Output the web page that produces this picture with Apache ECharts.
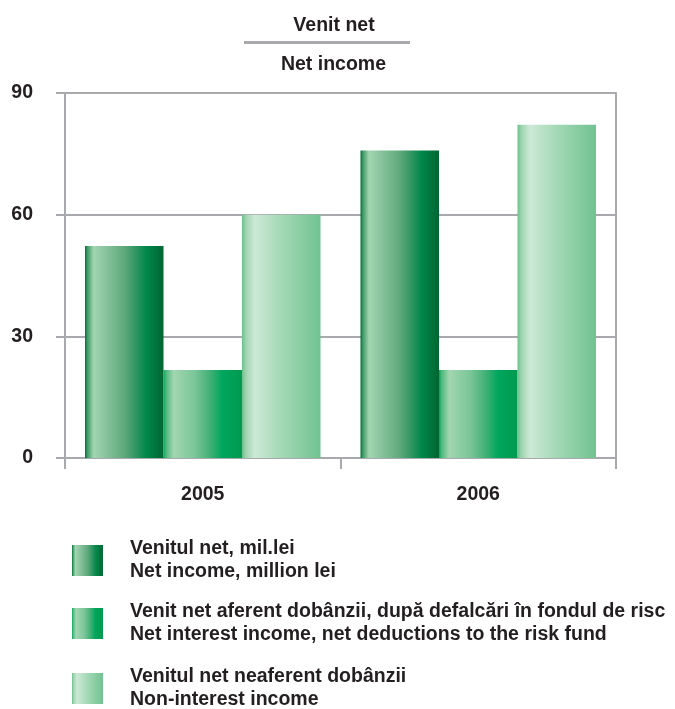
<!DOCTYPE html>
<html>
<head>
<meta charset="utf-8">
<script src="https://cdn.jsdelivr.net/npm/echarts@6/dist/echarts.min.js"></script>
<style>
html,body{margin:0;padding:0;background:#fff;}
#c{width:675px;height:709px;}
</style>
</head>
<body>
<div id="c"></div>
<script>
// ---- data ----
const categories = ['2005', '2006'];
const netIncome = [52.3, 75.8];
const netInterestIncome = [21.7, 21.7];
const nonInterestIncome = [60.0, 82.2];
const seriesNames = [
  'Venitul net, mil.lei\nNet income, million lei',
  'Venit net aferent dobânzii, după defalcări în fondul de risc\nNet interest income, net deductions to the risk fund',
  'Venitul net neaferent dobânzii\nNon-interest income'
];
const titleTop = 'Venit net';
const titleBottom = 'Net income';
const yTicks = {min: 0, max: 90, interval: 30};

// ---- styles ----
const FONT = "'Liberation Sans', Arial, Helvetica, sans-serif";
const TXT = '#231f20';
const GRAY = '#a7a9ac';
const FS = 19.5;

function grad(stops) {
  return new echarts.graphic.LinearGradient(0, 0, 1, 0,
    stops.map(s => ({offset: s[0], color: s[1]})));
}
const g1 = grad([[0, '#006e38'], [0.03, '#3f9a66'], [0.11, '#a2d5b1'], [0.3, '#82bf98'], [0.5, '#5fa97c'], [0.65, '#2f9561'], [0.78, '#00874a'], [1, '#006632']]);
const g2 = grad([[0, '#00a65a'], [0.03, '#4cb77b'], [0.13, '#a2d6b0'], [0.4, '#7ac599'], [0.6, '#3fb074'], [0.75, '#00a65e'], [1, '#009a4e']]);
const g3 = grad([[0, '#6cc08c'], [0.05, '#9ed4b0'], [0.16, '#cde9d6'], [0.45, '#a9dbba'], [0.75, '#8acda3'], [1, '#70c391']]);

const legendTops = [537.5, 600.5, 665.5];
function makeLegend(i) {
  return {
    orient: 'vertical',
    left: 72,
    top: legendTops[i],
    padding: 0,
    itemWidth: 31,
    itemHeight: 31,
    icon: 'rect',
    selectedMode: false,
    textStyle: {fontSize: FS, fontWeight: 'bold', color: TXT, lineHeight: 23, fontFamily: FONT, padding: [0, 0, 0, 22]},
    data: [seriesNames[i]]
  };
}

const chart = echarts.init(document.getElementById('c'), null, {renderer: 'canvas'});

const option = {
  animation: false,
  backgroundColor: '#ffffff',
  textStyle: {fontFamily: FONT},
  grid: {left: 65, right: 59, top: 93, bottom: 251, containLabel: false},
  graphic: [
    {type: 'text', silent: true, position: [334, 25.5], style: {text: titleTop, x: 0, y: 0, align: 'center', verticalAlign: 'middle', font: 'bold ' + FS + 'px ' + FONT, fill: TXT}},
    {type: 'line', silent: true, shape: {x1: 244, y1: 42.5, x2: 410, y2: 42.5}, style: {stroke: GRAY, lineWidth: 3}},
    {type: 'text', silent: true, position: [333.5, 64.5], style: {text: titleBottom, x: 0, y: 0, align: 'center', verticalAlign: 'middle', font: 'bold ' + FS + 'px ' + FONT, fill: TXT}}
  ],
  legend: [makeLegend(0), makeLegend(1), makeLegend(2)],
  xAxis: {
    type: 'category',
    data: categories,
    boundaryGap: true,
    axisLine: {show: true, lineStyle: {color: GRAY, width: 2}},
    axisTick: {show: true, length: 11, lineStyle: {color: GRAY, width: 2}},
    axisLabel: {fontSize: FS, fontWeight: 'bold', color: TXT, margin: 27, fontFamily: FONT},
    splitLine: {show: false}
  },
  yAxis: [
    {
      type: 'value',
      min: yTicks.min, max: yTicks.max, interval: yTicks.interval,
      axisLine: {show: true, lineStyle: {color: GRAY, width: 2}},
      axisTick: {show: true, length: 9, lineStyle: {color: GRAY, width: 2}},
      axisLabel: {fontSize: FS, fontWeight: 'bold', color: TXT, margin: 32, fontFamily: FONT},
      splitLine: {show: true, lineStyle: {color: GRAY, width: 2}}
    },
    {
      type: 'value', position: 'right',
      min: yTicks.min, max: yTicks.max, interval: yTicks.interval,
      axisLine: {show: true, lineStyle: {color: GRAY, width: 2}},
      axisTick: {show: false}, axisLabel: {show: false}, splitLine: {show: false}
    }
  ],
  series: [
    {name: seriesNames[0], type: 'bar', data: netIncome, barWidth: 78.5, barGap: '0%', itemStyle: {color: g1}},
    {name: seriesNames[1], type: 'bar', data: netInterestIncome, barWidth: 78.5, barGap: '0%', itemStyle: {color: g2}},
    {name: seriesNames[2], type: 'bar', data: nonInterestIncome, barWidth: 78.5, barGap: '0%', itemStyle: {color: g3}}
  ]
};
chart.setOption(option);
</script>
</body>
</html>
